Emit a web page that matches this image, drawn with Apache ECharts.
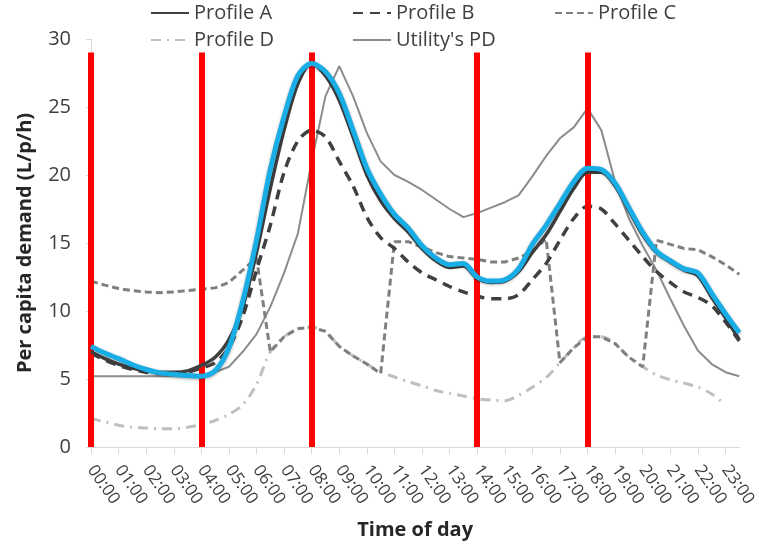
<!DOCTYPE html>
<html>
<head>
<meta charset="utf-8">
<script src="https://cdn.jsdelivr.net/npm/echarts@6/dist/echarts.min.js"></script>
<style>
  html, body { margin: 0; padding: 0; background: #ffffff; }
  #chart { width: 759px; height: 552px; }
</style>
</head>
<body>
<div id="chart"></div>
<script>
// Half-hourly time steps across the day
const times = [
  '00:00','00:30','01:00','01:30','02:00','02:30','03:00','03:30',
  '04:00','04:30','05:00','05:30','06:00','06:30','07:00','07:30',
  '08:00','08:30','09:00','09:30','10:00','10:30','11:00','11:30',
  '12:00','12:30','13:00','13:30','14:00','14:30','15:00','15:30',
  '16:00','16:30','17:00','17:30','18:00','18:30','19:00','19:30',
  '20:00','20:30','21:00','21:30','22:00','22:30','23:00','23:30'
];

// Per capita demand (L/p/h)
const profileA = [
  7.0, 6.5, 6.1, 5.8, 5.6, 5.5, 5.5, 5.6,
  6.0, 6.6, 7.9, 10.3, 14.3, 19.0, 23.3, 26.7,
  28.2, 27.3, 25.5, 22.8, 20.0, 18.1, 16.8, 15.8,
  14.6, 13.7, 13.2, 13.3, 12.4, 12.1, 12.2, 12.9,
  14.3, 15.6, 17.3, 19.0, 20.2, 20.2, 19.2, 17.4,
  15.6, 14.3, 13.6, 13.0, 12.6, 11.0, 9.5, 7.9
];
const profileB = [
  6.9, 6.4, 6.0, 5.7, 5.5, 5.4, 5.4, 5.5,
  5.8, 6.2, 7.3, 9.6, 13.0, 16.3, 20.2, 22.5,
  23.3, 22.8, 21.0, 19.2, 16.9, 15.4, 14.6, 13.6,
  12.8, 12.3, 11.8, 11.4, 11.1, 10.9, 10.9, 11.2,
  12.3, 13.5, 15.2, 16.8, 17.7, 17.5, 16.4, 15.2,
  14.0, 12.9, 12.1, 11.4, 11.0, 10.4, 9.2, 7.8
];
const profileC = [
  12.2, 11.9, 11.65, 11.5, 11.4, 11.35, 11.4, 11.5,
  11.6, 11.7, 12.1, 13.0, 13.9, 7.0, 8.1, 8.7,
  8.8, 8.5, 7.4, 6.7, 6.1, 5.4, 15.1, 15.1,
  14.7, 14.3, 14.0, 13.9, 13.8, 13.6, 13.6, 13.9,
  14.4, 15.3, 6.2, 7.3, 8.1, 8.1, 7.6, 6.6,
  5.9, 15.2, 14.9, 14.6, 14.5, 14.0, 13.4, 12.7
];
const profileD = [
  2.1, 1.85, 1.6, 1.45, 1.4, 1.35, 1.35, 1.45,
  1.65, 1.95, 2.4, 3.1, 4.6, 7.0, 8.1, 8.7,
  8.8, 8.5, 7.4, 6.7, 6.1, 5.5, 5.15, 4.8,
  4.5, 4.15, 3.95, 3.75, 3.55, 3.45, 3.4, 3.8,
  4.4, 5.1, 6.2, 7.3, 8.1, 8.1, 7.6, 6.6,
  5.9, 5.3, 4.95, 4.7, 4.4, 3.9, 3.1, null
];
const utilityPD = [
  5.2, 5.2, 5.2, 5.2, 5.2, 5.2, 5.2, 5.2,
  5.25, 5.5, 5.9, 7.0, 8.3, 10.3, 12.8, 15.7,
  21.0, 25.8, 28.0, 25.8, 23.1, 21.0, 20.0, 19.5,
  18.9, 18.2, 17.5, 16.9, 17.2, 17.6, 18.0, 18.5,
  19.9, 21.4, 22.7, 23.5, 24.9, 23.3, 19.5, 16.8,
  14.8, 13.0, 10.9, 8.9, 7.1, 6.1, 5.5, 5.2
];
const fittedProfile = [
  7.4, 6.9, 6.5, 6.05, 5.7, 5.45, 5.35, 5.25,
  5.2, 5.6, 7.3, 10.7, 15.2, 20.4, 24.3, 27.3,
  28.2, 27.6, 26.0, 23.3, 20.5, 18.6, 17.1, 16.1,
  14.8, 13.9, 13.4, 13.5, 12.5, 12.2, 12.3, 13.1,
  14.9, 16.3, 17.9, 19.5, 20.5, 20.4, 19.4, 17.6,
  15.8, 14.4, 13.7, 13.1, 12.8, 11.3, 9.8, 8.4
];

// Vertical markers at selected hours, drawn from 0 up to markerTop
const markerTimes = ['00:00', '04:00', '08:00', '14:00', '18:00'];
const markerTop = 29;

const yTicks = { min: 0, max: 30, interval: 5 };

const FONT = '"Open Sans", "Liberation Sans", sans-serif';

const legendSpots = [
  { name: 'Profile A', left: 150, top: 3 },
  { name: 'Profile B', left: 352, top: 3 },
  { name: 'Profile C', left: 554, top: 3 },
  { name: 'Profile D', left: 150, top: 30 },
  { name: "Utility's PD", left: 352, top: 30 }
];

const chart = echarts.init(document.getElementById('chart'), null, { renderer: 'canvas' });

const option = {
  backgroundColor: '#ffffff',
  animation: false,
  textStyle: { fontFamily: FONT },
  grid: { left: 91, right: 19, top: 39, bottom: 105 },
  legend: legendSpots.map(s => ({
    data: [s.name],
    left: s.left,
    top: s.top,
    padding: 0,
    itemWidth: 38,
    itemHeight: 14,
    itemGap: 0,
    // line sample only, no marker dot
    itemStyle: { opacity: 0, borderWidth: 0 },
    textStyle: { fontFamily: FONT, fontSize: 20, color: '#404040', lineHeight: 20 }
  })),
  xAxis: {
    type: 'category',
    data: times,
    boundaryGap: false,
    name: 'Time of day',
    nameLocation: 'middle',
    nameGap: 73,
    nameTextStyle: { fontFamily: FONT, fontSize: 20, fontWeight: 'bold', color: '#262626' },
    axisLine: { lineStyle: { color: '#d9d9d9', width: 1 } },
    axisTick: { show: true, interval: 1, length: 7, lineStyle: { color: '#d9d9d9' } },
    axisLabel: { interval: 1, rotate: -55, fontSize: 17, color: '#404040', margin: 20, fontFamily: FONT },
    splitLine: { show: false }
  },
  yAxis: {
    type: 'value',
    min: yTicks.min,
    max: yTicks.max,
    interval: yTicks.interval,
    name: 'Per capita demand (L/p/h)',
    nameLocation: 'middle',
    nameGap: 56,
    nameTextStyle: { fontFamily: FONT, fontSize: 20, fontWeight: 'bold', color: '#262626' },
    axisLine: { show: true, lineStyle: { color: '#d9d9d9', width: 1 } },
    axisTick: { show: true, length: 5, lineStyle: { color: '#d9d9d9' } },
    axisLabel: { fontSize: 20, color: '#404040', margin: 20, fontFamily: FONT },
    splitLine: { show: false }
  },
  series: [
    {
      name: "Utility's PD", type: 'line', data: utilityPD, symbol: 'none',
      lineStyle: { color: '#8c8c8c', width: 2 }, itemStyle: { color: '#8c8c8c' }, z: 2
    },
    {
      name: 'Profile D', type: 'line', data: profileD, symbol: 'none', smooth: 0.3,
      lineStyle: { color: '#bfbfbf', width: 3, type: [10, 6, 2, 6] }, itemStyle: { color: '#bfbfbf' }, z: 2
    },
    {
      name: 'Profile C', type: 'line', data: profileC, symbol: 'none',
      lineStyle: { color: '#7f7f7f', width: 3, type: [7, 4] }, itemStyle: { color: '#7f7f7f' }, z: 3
    },
    {
      name: 'Profile B', type: 'line', data: profileB, symbol: 'none', smooth: 0.3,
      lineStyle: { color: '#404040', width: 3.5, type: [10, 7] }, itemStyle: { color: '#404040' }, z: 4
    },
    {
      name: 'Profile A', type: 'line', data: profileA, symbol: 'none', smooth: 0.3,
      lineStyle: { color: '#404040', width: 3.5 }, itemStyle: { color: '#404040' }, z: 5
    },
    {
      name: 'Fitted', type: 'line', data: fittedProfile, symbol: 'none', smooth: 0.3,
      lineStyle: {
        color: '#19ade6', width: 5,
        shadowColor: 'rgba(0,0,0,0.35)', shadowBlur: 3, shadowOffsetY: 1
      },
      itemStyle: { color: '#19ade6' }, z: 6
    },
    {
      name: 'Markers', type: 'line', data: [], symbol: 'none', z: 10,
      markLine: {
        silent: true,
        symbol: ['none', 'none'],
        label: { show: false },
        lineStyle: { color: '#ff0000', width: 6, type: 'solid' },
        data: markerTimes.map(t => [
          { coord: [t, 0] },
          { coord: [t, markerTop] }
        ])
      }
    }
  ]
};

chart.setOption(option);
</script>
</body>
</html>
